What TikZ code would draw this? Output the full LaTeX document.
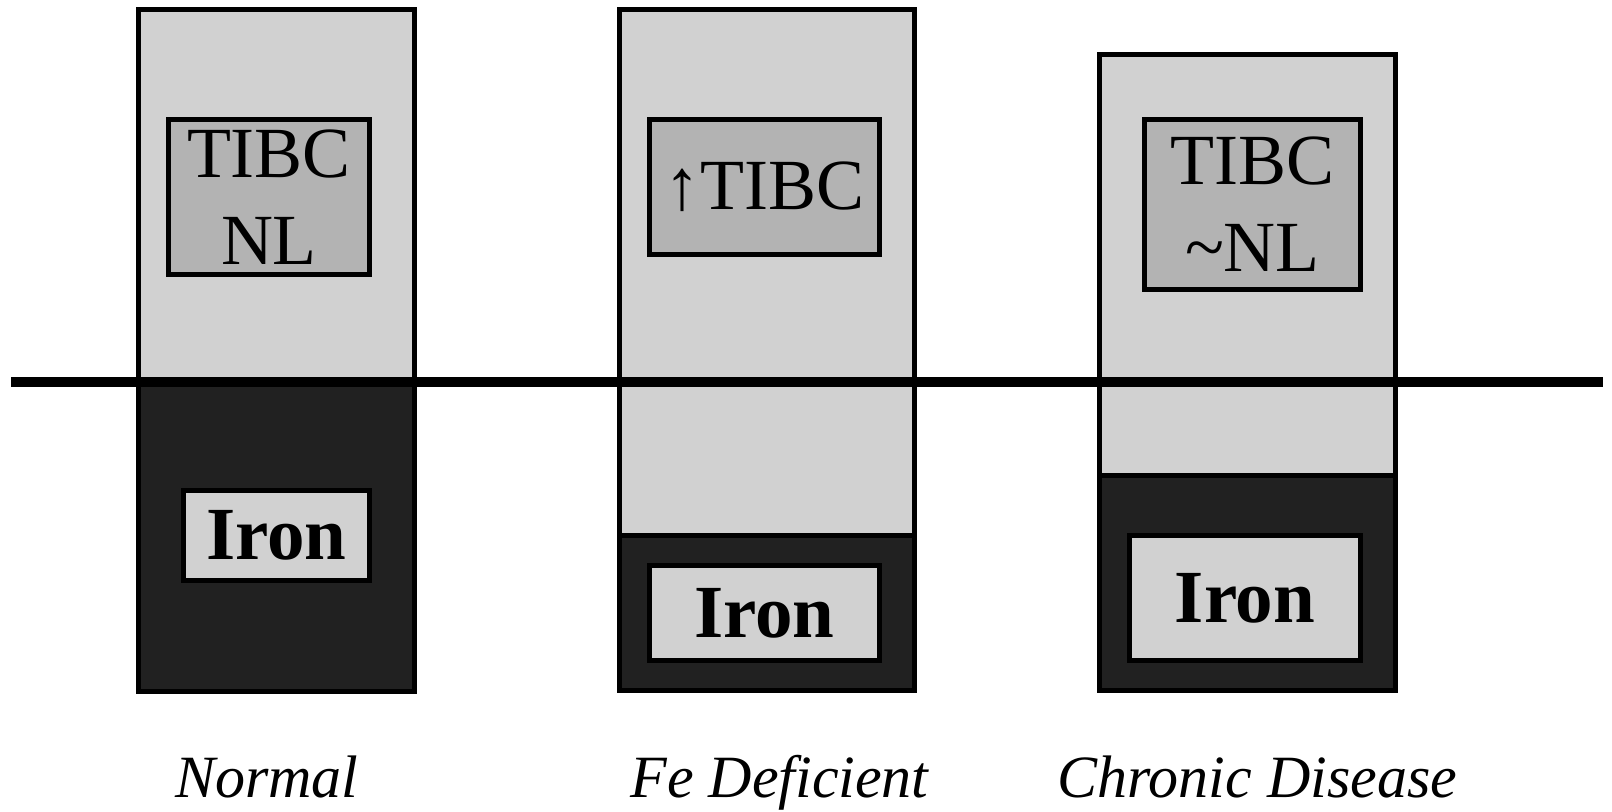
\documentclass[tikz,border=0pt]{standalone}
\usepackage{fontspec}
\setmainfont{Liberation Serif}
\definecolor{lightfill}{HTML}{D1D1D1}
\definecolor{midfill}{HTML}{B3B3B3}
\definecolor{darkfill}{HTML}{212121}
\begin{document}
\begin{tikzpicture}[x=0.5pt,y=-0.5pt,
  border/.style={draw=black,line width=2.5pt},
  outerbox/.style={border,inner sep=0pt,outer sep=0pt},
  tibcbox/.style={border,fill=midfill,inner sep=0pt,align=center,
    font=\fontsize{36}{43.5}\selectfont},
  ironbox/.style={border,fill=lightfill,inner sep=0pt,
    font=\fontsize{37.5}{40}\selectfont\bfseries},
  caption/.style={anchor=base,inner sep=0pt,
    font=\fontsize{30}{33}\selectfont\itshape}]
\useasboundingbox (0,0) rectangle (1612,812);

% column fills: capacity (light) and iron (dark)
\fill[lightfill] (138.5,9.5) rectangle (414.5,691);
\fill[darkfill]  (138.5,383) rectangle (414.5,691);
\fill[lightfill] (619.5,9.5) rectangle (914.5,690.5);
\fill[darkfill]  (619.5,535.5) rectangle (914.5,690.5);
\fill[lightfill] (1099.5,54.5) rectangle (1395.5,690.5);
\fill[darkfill]  (1099.5,475.5) rectangle (1395.5,690.5);

% column outlines
\node[outerbox,minimum width=138pt,minimum height=340.75pt] (normal) at (276.5,350.25) {};
\node[outerbox,minimum width=147.5pt,minimum height=340.5pt] (fe) at (767,350) {};
\node[outerbox,minimum width=148pt,minimum height=318pt] (chronic) at (1247.5,372.5) {};

% boundary between free capacity and iron
\coordinate (feL) at (619.5,535.5);
\coordinate (feR) at (914.5,535.5);
\coordinate (chL) at (1099.5,475.5);
\coordinate (chR) at (1395.5,475.5);
\draw[border] (feL) -- (feR);
\draw[border] (chL) -- (chR);

% reference level
\coordinate (baseL) at (11,382);
\coordinate (baseR) at (1603,382);
\draw[line width=5pt,black] (baseL) -- (baseR);

% TIBC labels
\node[tibcbox,minimum width=100.5pt,minimum height=77.75pt] (tibcA) at (269,197.25) {TIBC\\NL};
\node[tibcbox,minimum width=115pt,minimum height=67.5pt] (tibcB) at (764.5,187) {↑TIBC};
\node[tibcbox,minimum width=108pt,minimum height=85pt] (tibcC) at (1252.5,204.5) {TIBC\\\textasciitilde NL};

% iron labels
\node[ironbox,minimum width=93pt,minimum height=45pt] (ironA) at (276.5,535.5) {Iron};
\node[ironbox,minimum width=115pt,minimum height=47.5pt] (ironB) at (764.5,613) {Iron};
\node[ironbox,minimum width=115.5pt,minimum height=62.5pt] (ironC) at (1245,598) {Iron};

% captions
\node[caption] (capA) at (267,797) {Normal};
\node[caption] (capB) at (779.5,797) {Fe Deficient};
\node[caption] (capC) at (1257.5,797) {Chronic Disease};
\end{tikzpicture}
\end{document}
